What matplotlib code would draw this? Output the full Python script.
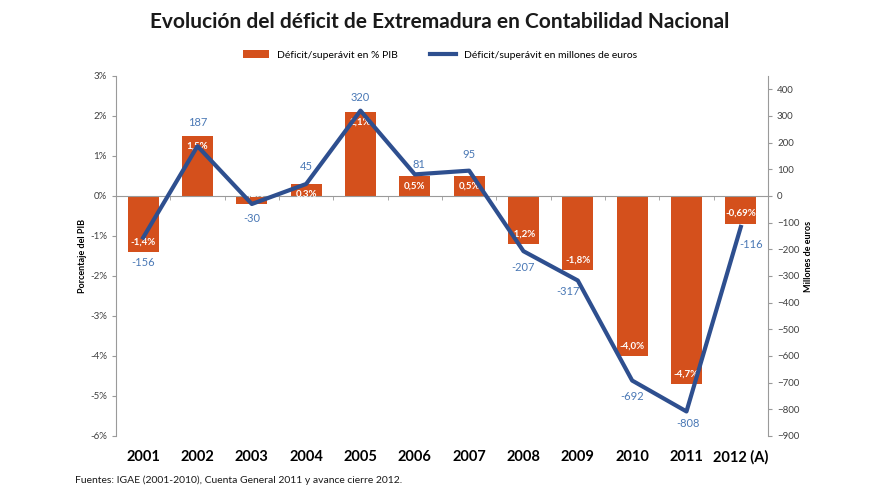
import matplotlib.pyplot as plt
import numpy as np

plt.rcParams['font.family'] = ['Lato', 'DejaVu Sans']

years = ['2001', '2002', '2003', '2004', '2005', '2006', '2007',
         '2008', '2009', '2010', '2011', '2012 (A)']
pct_pib = [-1.4, 1.5, -0.2, 0.3, 2.1, 0.5, 0.5, -1.2, -1.85, -4.0, -4.7, -0.69]
pct_labels = ['-1,4%', '1,5%', '-0,2%', '0,3%', '2,1%', '0,5%', '0,5%',
              '-1,2%', '-1,8%', '-4,0%', '-4,7%', '-0,69%']
millones = [-156, 187, -30, 45, 320, 81, 95, -207, -317, -692, -808, -116]

# label offsets for the line values (pixels)
lab_dx = [0, 0, 0, 0, 0, 4, 0, 0, -10, 0, 2, 10]
lab_dy = [-25, 24, -15, 17, 13, 10, 16, -16, -11, -16, -12, -18]

bar_color = '#D4501C'
line_color = '#2E4F8F'
lab_color = '#4A78B5'
grey = '#9A9A9A'

x = np.arange(len(years))

fig = plt.figure(figsize=(8.8, 4.95), dpi=100)
ax = fig.add_axes([0.1318, 0.1192, 0.7409, 0.7273])
ax2 = ax.twinx()

ax.bar(x, pct_pib, width=0.57, color=bar_color, zorder=2,
       label='Déficit/superávit en % PIB')
ax.set_ylim(-6, 3)
ax.set_xlim(-0.5, len(years) - 0.5)
ax.set_yticks(np.arange(-6, 4))
ax.set_yticklabels([f'{v}%' for v in range(-6, 4)])

# bar value labels inside the bar end
for xi, v, t in zip(x, pct_pib, pct_labels):
    off = -0.25 if v > 0 else 0.25
    ax.text(xi, v + off, t, ha='center', va='center', color='white',
            fontsize=7, fontweight='bold', zorder=5)

ax2.plot(x, millones, color=line_color, lw=3, zorder=4,
         label='Déficit/superávit en millones de euros')
ax2.set_ylim(-900, 450)
ax2.set_yticks(np.arange(-900, 401, 100))

for xi, v, dx, dy in zip(x, millones, lab_dx, lab_dy):
    ax2.annotate(str(v), (xi, v), xytext=(dx, dy), textcoords='offset pixels',
                 ha='center', va='center', color=lab_color, fontsize=8)

# axes styling
for a in (ax, ax2):
    a.spines['top'].set_visible(False)
    a.tick_params(axis='y', labelsize=7, colors='#404040', length=3,
                  color=grey)
ax.spines['right'].set_visible(False)
ax.spines['left'].set_color(grey)
ax2.spines['left'].set_visible(False)
ax2.spines['bottom'].set_visible(False)
ax2.spines['right'].set_color(grey)

# zero line with category separators
ax.spines['bottom'].set_position(('data', 0))
ax.spines['bottom'].set_color(grey)
ax.set_xticks(x)
ax.tick_params(axis='x', which='major', length=0, labelbottom=False)
ax.set_xticks(x[:-1] + 0.5, minor=True)
ax.tick_params(axis='x', which='minor', length=3, color=grey, direction='out')

sec = ax.secondary_xaxis(0)
sec.set_xticks(x)
sec.set_xticklabels(years, fontsize=10.5, fontweight='bold')
sec.tick_params(length=0, pad=10)
sec.spines['bottom'].set_visible(False)

ax.set_ylabel('Porcentaje del PIB', fontsize=6.5, fontweight='bold',
              labelpad=2)
ax2.set_ylabel('Millones de euros', fontsize=6.5, fontweight='bold',
               rotation=90, labelpad=3)

fig.text(0.5, 0.955, 'Evolución del déficit de Extremadura en Contabilidad Nacional',
         ha='center', va='center', fontsize=15, fontweight='bold', color='#1A1A1A')

h1, l1 = ax.get_legend_handles_labels()
h2, l2 = ax2.get_legend_handles_labels()
fig.legend(h1 + h2, l1 + l2, loc='center', bbox_to_anchor=(0.5, 0.889),
           ncol=2, frameon=False, fontsize=7.5, handlelength=2.5,
           columnspacing=3)

fig.text(0.085, 0.03, 'Fuentes: IGAE (2001-2010), Cuenta General 2011 y avance cierre 2012.',
         fontsize=7.5, color='#1A1A1A', va='center')

fig.savefig('out.png', dpi=100)
